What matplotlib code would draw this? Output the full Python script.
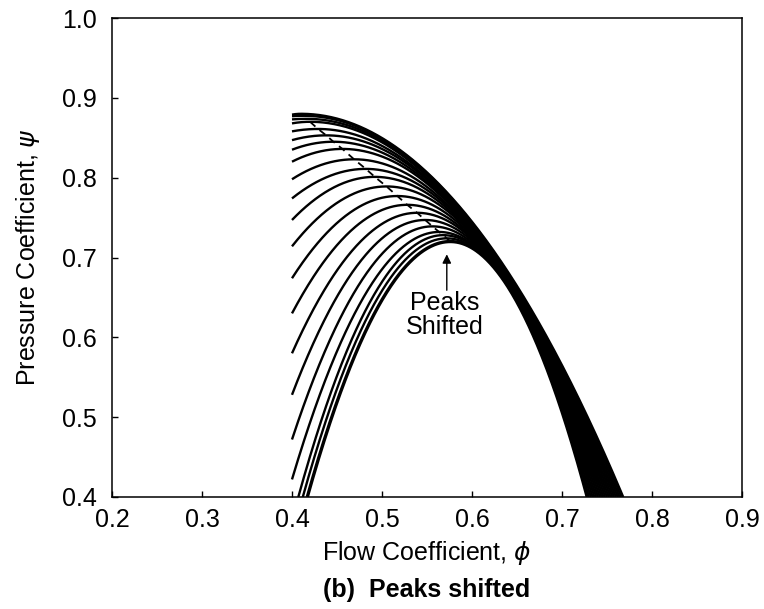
import numpy as np
import matplotlib
matplotlib.use("Agg")
import matplotlib.pyplot as plt

plt.rcParams['font.family'] = ['Liberation Sans', 'DejaVu Sans']
plt.rcParams['mathtext.fontset'] = 'dejavusans'

# Compressor characteristics: one entry per speed line.
# Left end point of each characteristic (phi, psi)
left_phi = [0.400, 0.400, 0.400, 0.400, 0.400, 0.400, 0.400, 0.400, 0.400, 0.400,
            0.400, 0.400, 0.400, 0.400, 0.400, 0.400, 0.400, 0.400, 0.407, 0.412, 0.417]
left_psi = [0.879, 0.877, 0.873, 0.868, 0.858, 0.847, 0.835, 0.820, 0.798, 0.774,
            0.747, 0.714, 0.674, 0.630, 0.580, 0.528, 0.472, 0.422, 0.400, 0.400, 0.400]
# Peak (surge point) of each characteristic
peak_phi = [0.410, 0.413, 0.4165, 0.420, 0.429, 0.438, 0.446, 0.456, 0.469, 0.482,
            0.492, 0.505, 0.517, 0.528, 0.539, 0.548, 0.556, 0.5635, 0.568, 0.572, 0.576]
peak_psi = [0.880, 0.8775, 0.8737, 0.870, 0.861, 0.853, 0.845, 0.836, 0.823, 0.811,
            0.801, 0.789, 0.777, 0.766, 0.756, 0.747, 0.739, 0.732, 0.728, 0.724, 0.720]
# Flow coefficient where each characteristic falls to psi = 0.4 on the choke side
right_phi = [0.768, 0.766, 0.764, 0.762, 0.760, 0.758, 0.756, 0.754, 0.752, 0.750,
             0.748, 0.746, 0.744, 0.742, 0.740, 0.738, 0.736, 0.734, 0.732, 0.730, 0.728]
right_psi = 0.4

x_ticks = [0.2, 0.3, 0.4, 0.5, 0.6, 0.7, 0.8, 0.9]
y_ticks = [0.4, 0.5, 0.6, 0.7, 0.8, 0.9, 1.0]

fig = plt.figure(figsize=(7.64, 6.09), dpi=100)
ax = fig.add_axes([112 / 764, 1 - 497 / 609, 630 / 764, 479 / 609])

n = len(peak_phi)
for i in range(n):
    pl, ql = left_phi[i], left_psi[i]
    pp, qp = peak_phi[i], peak_psi[i]
    pr = right_phi[i]
    k_left = (qp - ql) / (pp - pl) ** 2
    k_right = (qp - right_psi) / (pr - pp) ** 2
    phi = np.linspace(pl, pr, 400)
    d = phi - pp
    psi = np.where(d < 0, qp - k_left * d ** 2, qp - k_right * d ** 2)
    lw = 2.4 if i == n - 1 else 1.7
    ax.plot(phi, psi, color='black', lw=lw, solid_capstyle='butt')

# Locus of the shifted peaks
ax.plot(peak_phi[3:], peak_psi[3:], color='black', lw=1.3,
        linestyle=(0, (4, 3)), dash_capstyle='butt')

ax.annotate('', xy=(0.572, 0.704), xytext=(0.572, 0.659),
            arrowprops=dict(arrowstyle='-|>', color='black', lw=1.0,
                            mutation_scale=13, shrinkA=0, shrinkB=0))
ax.text(0.570, 0.628, 'Peaks\nShifted', ha='center', va='center',
        fontsize=18, linespacing=0.95)

ax.set_xlim(0.2, 0.9)
ax.set_ylim(0.4, 1.0)
ax.set_xticks(x_ticks)
ax.set_yticks(y_ticks)
ax.set_xticklabels([f'{v:.1f}' for v in x_ticks])
ax.set_yticklabels([f'{v:.1f}' for v in y_ticks])
ax.tick_params(axis='both', direction='in', length=4, width=1.0,
               labelsize=18, top=False, right=False)
ax.tick_params(axis='x', pad=8)
ax.tick_params(axis='y', pad=11)
for sp in ax.spines.values():
    sp.set_linewidth(1.1)

ax.set_xlabel('Flow Coefficient, $\\phi$', fontsize=18)
ax.xaxis.set_label_coords(0.5, -0.117)
ax.xaxis.label.set_va('center')
ax.set_ylabel('Pressure Coefficient, $\\psi$', fontsize=18)
ax.yaxis.set_label_coords(-0.133, 0.5)
ax.yaxis.label.set_va('center')

fig.text(0.5 * (112 + 742) / 764, 1 - 590 / 609, '(b)  Peaks shifted',
         ha='center', va='center', fontsize=18, fontweight='bold')

fig.savefig('out.png', dpi=100)
